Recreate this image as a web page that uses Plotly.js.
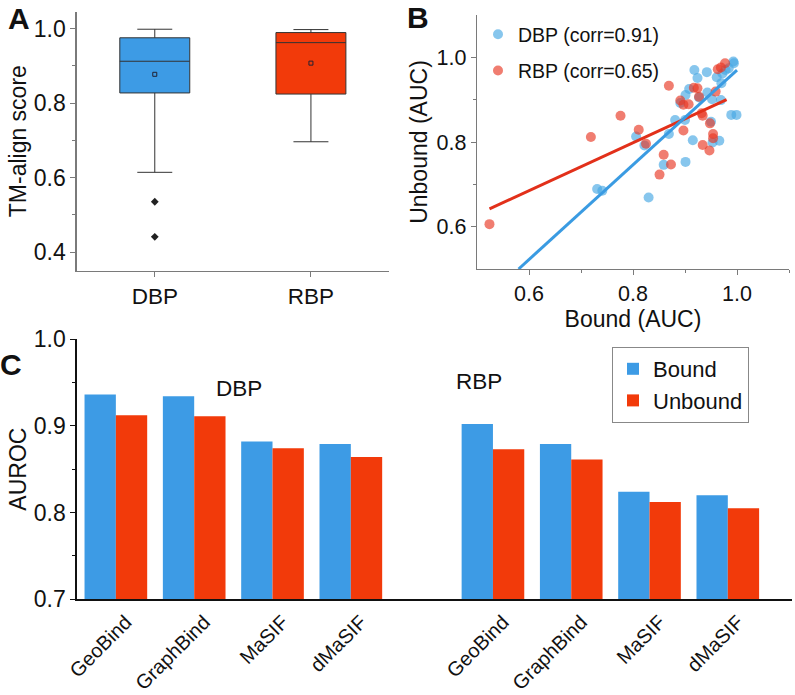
<!DOCTYPE html>
<html><head><meta charset="utf-8">
<script src="https://cdn.plot.ly/plotly-3.0.1.min.js"></script>
<style>html,body{margin:0;padding:0;background:#fff}#chart{width:795px;height:695px}</style>
</head><body><div id="chart"></div>
<script>
// ---------- Panel A: TM-align score box plots ----------
const groupsA = ['DBP', 'RBP'];
const q1A = [0.827, 0.824];
const medianA = [0.912, 0.962];
const q3A = [0.975, 0.989];
const lowerA = [0.614, 0.696];
const upperA = [0.998, 0.997];
const meanA = [0.877, 0.907];
const outlierGroupA = ['DBP', 'DBP'];
const outlierA = [0.535, 0.441];

// ---------- Panel B: Bound vs Unbound AUC ----------
const dbpBound = [0.731,0.741,0.830,0.806,0.822,0.859,0.869,0.901,0.915,0.900,0.918,0.908,0.901,0.924,0.942,0.943,0.952,0.950,0.953,0.966,0.961,0.970,0.972,0.978,0.989,0.999,0.993,0.994,0.984,0.969,0.891,0.927,0.881];
const dbpUnbound = [0.689,0.685,0.669,0.813,0.792,0.746,0.819,0.753,0.804,0.852,0.970,0.925,0.911,0.951,0.965,0.917,0.901,0.848,0.799,0.803,0.953,0.939,0.962,0.970,0.864,0.864,0.990,0.986,0.974,0.899,0.892,0.905,0.852];
const rbpBound = [0.524,0.719,0.776,0.811,0.825,0.869,0.859,0.851,0.873,0.891,0.897,0.907,0.897,0.924,0.927,0.932,0.934,0.934,0.947,0.948,0.954,0.954,0.959,0.963,0.977,0.969,0.917];
const rbpUnbound = [0.606,0.812,0.862,0.829,0.796,0.933,0.770,0.723,0.747,0.898,0.888,0.889,0.827,0.927,0.907,0.868,0.862,0.793,0.780,0.844,0.809,0.819,0.919,0.972,0.986,0.976,0.928];
const dbpFitX = [0.58, 1.0], dbpFitY = [0.50, 0.97];
const rbpFitX = [0.524, 0.98], rbpFitY = [0.642, 0.90];

// ---------- Panel C: AUROC bars ----------
const methods = ['GeoBind', 'GraphBind', 'MaSIF', 'dMaSIF'];
const dbpBoundC = [0.936, 0.934, 0.882, 0.879];
const dbpUnboundC = [0.912, 0.911, 0.874, 0.864];
const rbpBoundC = [0.902, 0.879, 0.824, 0.820];
const rbpUnboundC = [0.873, 0.861, 0.812, 0.805];

const FONT = 'Liberation Sans, Arial, sans-serif';
const BLUE = '#3d9be5', RED = '#f23a0a';

const traces = [];
// Panel A boxes
groupsA.forEach((g, i) => {
  traces.push({
    type: 'box', x: [g], q1: [q1A[i]], median: [medianA[i]], q3: [q3A[i]],
    lowerfence: [lowerA[i]], upperfence: [upperA[i]],
    fillcolor: i === 0 ? BLUE : RED,
    line: {color: '#333', width: 1}, whiskerwidth: 0.5,
    xaxis: 'x', yaxis: 'y', showlegend: false, hoverinfo: 'skip'
  });
});
traces.push({type: 'scatter', mode: 'markers', x: groupsA, y: meanA,
  marker: {symbol: 'square-open', size: 4, color: '#223', line: {width: 1}},
  xaxis: 'x', yaxis: 'y', showlegend: false});
traces.push({type: 'scatter', mode: 'markers', x: outlierGroupA, y: outlierA,
  marker: {symbol: 'diamond', size: 6, color: '#222'},
  xaxis: 'x', yaxis: 'y', showlegend: false});

// Panel B scatter
traces.push({type: 'scatter', mode: 'markers', x: dbpBound, y: dbpUnbound,
  name: 'DBP (corr=0.91)', legendgroup: 'a',
  marker: {size: 10, color: 'rgb(70,168,228)', opacity: 0.65},
  xaxis: 'x2', yaxis: 'y2'});
traces.push({type: 'scatter', mode: 'markers', x: rbpBound, y: rbpUnbound,
  name: 'RBP (corr=0.65)', legendgroup: 'b',
  marker: {size: 10, color: 'rgb(232,55,35)', opacity: 0.65},
  xaxis: 'x2', yaxis: 'y2'});
traces.push({type: 'scatter', mode: 'lines', x: rbpFitX, y: rbpFitY,
  line: {color: '#e2301a', width: 3}, xaxis: 'x2', yaxis: 'y2', showlegend: false});
traces.push({type: 'scatter', mode: 'lines', x: dbpFitX, y: dbpFitY,
  line: {color: '#3a9be2', width: 3}, xaxis: 'x2', yaxis: 'y2', showlegend: false});

// Panel C bars
traces.push({type: 'bar', x: methods, y: dbpBoundC, name: 'Bound', legend: 'legend2',
  marker: {color: BLUE}, xaxis: 'x3', yaxis: 'y3'});
traces.push({type: 'bar', x: methods, y: dbpUnboundC, name: 'Unbound', legend: 'legend2',
  marker: {color: RED}, xaxis: 'x3', yaxis: 'y3'});
traces.push({type: 'bar', x: methods, y: rbpBoundC, name: 'Bound', legend: 'legend2', showlegend: false,
  marker: {color: BLUE}, xaxis: 'x4', yaxis: 'y3'});
traces.push({type: 'bar', x: methods, y: rbpUnboundC, name: 'Unbound', legend: 'legend2', showlegend: false,
  marker: {color: RED}, xaxis: 'x4', yaxis: 'y3'});

const W = 795, H = 695;
const fx = p => p / W, fy = p => 1 - p / H;
const grayAxis = {showline: true, linecolor: '#7a7a7a', linewidth: 1.3, ticks: 'outside',
  ticklen: 5, tickcolor: '#7a7a7a', showgrid: false, zeroline: false, automargin: false,
  tickfont: {family: FONT, size: 23, color: '#111'}};
const catTick = {family: FONT, size: 20, color: '#111'};

const layout = {
  width: W, height: H, margin: {l: 0, r: 0, t: 0, b: 0},
  paper_bgcolor: '#fff', plot_bgcolor: 'rgba(0,0,0,0)',
  font: {family: FONT, color: '#111'},
  boxgap: 0.36, bargap: 0.2, bargroupgap: 0, barmode: 'group',
  xaxis: Object.assign({}, grayAxis, {domain: [fx(76.7), fx(389)], anchor: 'y',
    type: 'category', range: [-0.5, 1.5], tickfont: {family: FONT, size: 22.5, color: '#111'}}),
  yaxis: Object.assign({}, grayAxis, {domain: [fy(270.7), fy(11.7)], anchor: 'x',
    range: [0.35, 1.045], tickvals: [0.4, 0.6, 0.8, 1.0], ticktext: ['0.4','0.6','0.8','1.0'],
    minor: {tickvals: [0.5, 0.7, 0.9], ticklen: 3, tickcolor: '#7a7a7a', ticks: 'outside'},
    title: {text: 'TM-align score', font: {family: FONT, size: 23}, standoff: 0}}),
  xaxis2: Object.assign({}, grayAxis, {domain: [fx(477), fx(789)], anchor: 'y2',
    range: [0.5, 1.1], tickvals: [0.6, 0.8, 1.0], ticktext: ['0.6','0.8','1.0'],
    tickfont: {family: FONT, size: 21.5, color: '#111'},
    minor: {tickvals: [0.7, 0.9, 1.1], ticklen: 3, tickcolor: '#7a7a7a', ticks: 'outside'},
    title: {text: 'Bound (AUC)', font: {family: FONT, size: 23}, standoff: 0}}),
  yaxis2: Object.assign({}, grayAxis, {domain: [fy(269), fy(15)], anchor: 'x2',
    range: [0.5, 1.1], tickvals: [0.6, 0.8, 1.0], ticktext: ['0.6','0.8','1.0'],
    tickfont: {family: FONT, size: 21.5, color: '#111'},
    minor: {tickvals: [0.7, 0.9], ticklen: 3, tickcolor: '#7a7a7a', ticks: 'outside'},
    title: {text: 'Unbound (AUC)', font: {family: FONT, size: 23}, standoff: 2}}),
  xaxis3: {domain: [fx(76.7), fx(390)], anchor: 'y3', type: 'category', range: [-0.5, 3.5],
    showline: true, linecolor: '#111', linewidth: 1.3, ticks: '', showgrid: false, zeroline: false,
    tickangle: -45, ticklabelstandoff: 2, ticklabelshift: 10, automargin: false, tickfont: catTick},
  xaxis4: {domain: [fx(390), fx(792)], anchor: 'y3', type: 'category', range: [-1.315, 3.82],
    showline: true, linecolor: '#111', linewidth: 1.3, ticks: '', showgrid: false, zeroline: false,
    tickangle: -45, ticklabelstandoff: 2, ticklabelshift: 10, automargin: false, tickfont: catTick},
  yaxis3: {domain: [fy(599.3), fy(339)], anchor: 'x3', range: [0.7, 1.0],
    tickvals: [0.7, 0.8, 0.9, 1.0], ticktext: ['0.7','0.8','0.9','1.0'],
    showline: true, linecolor: '#111', linewidth: 1.3, ticks: 'outside', ticklen: 5, tickcolor: '#111',
    minor: {tickvals: [0.75, 0.85, 0.95], ticklen: 3, tickcolor: '#111', ticks: 'outside'},
    showgrid: false, zeroline: false, automargin: false,
    tickfont: {family: FONT, size: 23, color: '#111'},
    title: {text: 'AUROC', font: {family: FONT, size: 23}, standoff: 0}},
  legend: {x: fx(478), y: fy(15), xanchor: 'left', yanchor: 'top', bgcolor: 'rgba(0,0,0,0)',
    font: {family: FONT, size: 19.5, color: '#111'}, tracegroupgap: 8, traceorder: 'grouped'},
  legend2: {x: fx(612), y: fy(347), xanchor: 'left', yanchor: 'top', bgcolor: '#fff',
    bordercolor: '#888', borderwidth: 1, font: {family: FONT, size: 22, color: '#111'}},
  annotations: [
    {text: '<b>A</b>', x: fx(19), y: fy(18)},
    {text: '<b>B</b>', x: fx(418), y: fy(17)},
    {text: '<b>C</b>', x: fx(11), y: fy(364)}
  ].map(a => Object.assign(a, {xref: 'paper', yref: 'paper', showarrow: false,
      xanchor: 'center', yanchor: 'middle', font: {family: FONT, size: 30, color: '#111'}}))
   .concat([
    {text: 'DBP', x: fx(239), y: fy(388)},
    {text: 'RBP', x: fx(479), y: fy(382)}
  ].map(a => Object.assign(a, {xref: 'paper', yref: 'paper', showarrow: false,
      xanchor: 'center', yanchor: 'middle', font: {family: FONT, size: 22.5, color: '#111'}})))
};

Plotly.newPlot('chart', traces, layout, {staticPlot: true, displayModeBar: false});
</script>
</body></html>
